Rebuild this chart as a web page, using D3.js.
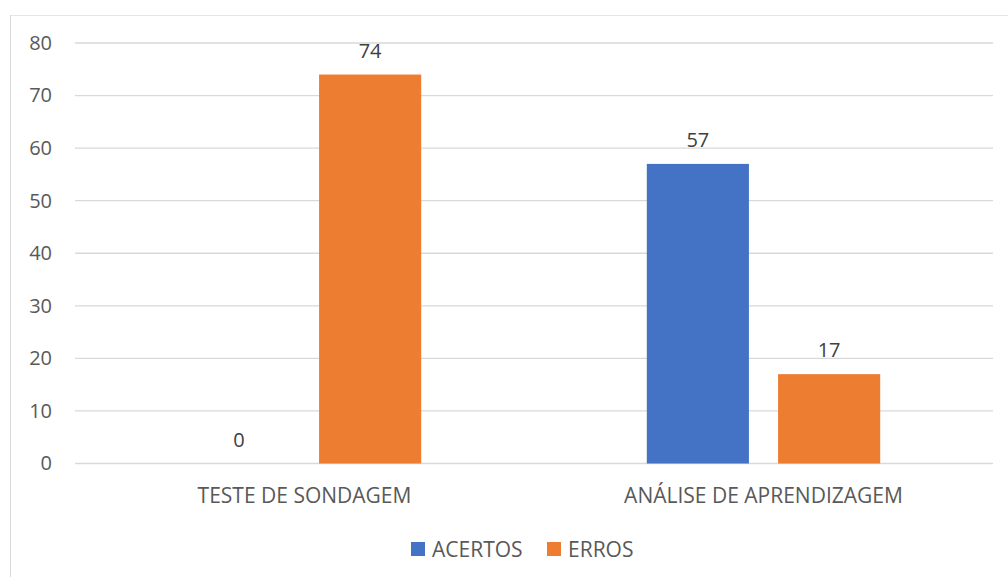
<!DOCTYPE html>
<html>
<head>
<meta charset="utf-8">
<script src="https://cdn.jsdelivr.net/npm/d3@7"></script>
<style>
  body { margin: 0; background: #fff; }
  svg { display: block; font-family: "Open Sans", "Noto Sans", sans-serif; }
</style>
</head>
<body>
<svg id="chart" width="1008" height="577"></svg>
<script>
const categories = ['TESTE DE SONDAGEM', 'ANÁLISE DE APRENDIZAGEM'];
const seriesNames = ['ACERTOS', 'ERROS'];
const acertos = [0, 57];
const erros = [74, 17];
const yTicks = [0, 10, 20, 30, 40, 50, 60, 70, 80];
const colors = ['#4472C4', '#ED7D31'];

const svg = d3.select('#chart');
const margin = {top: 43, right: 15, bottom: 114, left: 75};
const width = 993 - margin.left;
const height = 463.5 - margin.top;

// chart frame (partly cut off right/bottom like the screenshot)
svg.append('rect')
  .attr('x', 10.5).attr('y', 15.5)
  .attr('width', 1010).attr('height', 600)
  .style('fill', 'none')
  .style('stroke', '#e6e6e6');
svg.append('line')
  .attr('x1', 10.5).attr('x2', 10.5).attr('y1', 15).attr('y2', 577)
  .style('stroke', '#d9d9d9');

const g = svg.append('g')
  .attr('transform', `translate(${margin.left}, ${margin.top})`);

const y = d3.scaleLinear().domain([0, 80]).range([height, 0]);
const x0 = d3.scaleBand().domain(categories).range([0, width]);
const x1 = d3.scaleBand().domain(seriesNames).range([-65.5 - 51.2, 65.5 + 51.2]).paddingInner(0.222);

// gridlines
g.selectAll('.grid')
  .data(yTicks)
  .join('line')
  .attr('x1', 0).attr('x2', width)
  .attr('y1', d => y(d)).attr('y2', d => y(d))
  .style('stroke', '#d9d9d9')
  .style('stroke-width', 1.3);

// y axis labels
const yAxis = g.append('g')
  .call(d3.axisLeft(y).tickValues(yTicks).tickSize(0).tickPadding(23));
yAxis.select('.domain').remove();
yAxis.selectAll('text')
  .style('font-size', '20px')
  .style('fill', '#595959')
  .style('font-family', '"Open Sans", sans-serif');

const data = categories.map((c, i) => ({cat: c, values: [
  {key: 'ACERTOS', value: acertos[i]},
  {key: 'ERROS', value: erros[i]}
]}));

const groups = g.selectAll('.grp')
  .data(data)
  .join('g')
  .attr('transform', d => `translate(${x0(d.cat) + x0.bandwidth() / 2}, 0)`);

groups.selectAll('rect')
  .data(d => d.values)
  .join('rect')
  .attr('x', d => x1(d.key))
  .attr('width', x1.bandwidth())
  .attr('y', d => y(d.value))
  .attr('height', d => height - y(d.value))
  .style('fill', (d, i) => colors[i]);

groups.selectAll('.lbl')
  .data(d => d.values)
  .join('text')
  .attr('x', d => x1(d.key) + x1.bandwidth() / 2)
  .attr('y', d => y(d.value) - 17)
  .attr('text-anchor', 'middle')
  .style('font-size', '20px')
  .style('fill', '#404040')
  .text(d => d.value);

// category labels
g.selectAll('.cat')
  .data(categories)
  .join('text')
  .attr('x', d => x0(d) + x0.bandwidth() / 2)
  .attr('y', height + 39)
  .attr('text-anchor', 'middle')
  .style('font-size', '21px')
  .style('fill', '#595959')
  .text(d => d);

// legend
const legendX = [411, 547];
const legend = svg.selectAll('.leg')
  .data(seriesNames)
  .join('g')
  .attr('transform', (d, i) => `translate(${legendX[i]}, 542)`);
legend.append('rect')
  .attr('width', 14).attr('height', 14)
  .style('fill', (d, i) => colors[i]);
legend.append('text')
  .attr('x', 21).attr('y', 14.5)
  .style('font-size', '21px')
  .style('fill', '#595959')
  .text(d => d);
</script>
</body>
</html>
